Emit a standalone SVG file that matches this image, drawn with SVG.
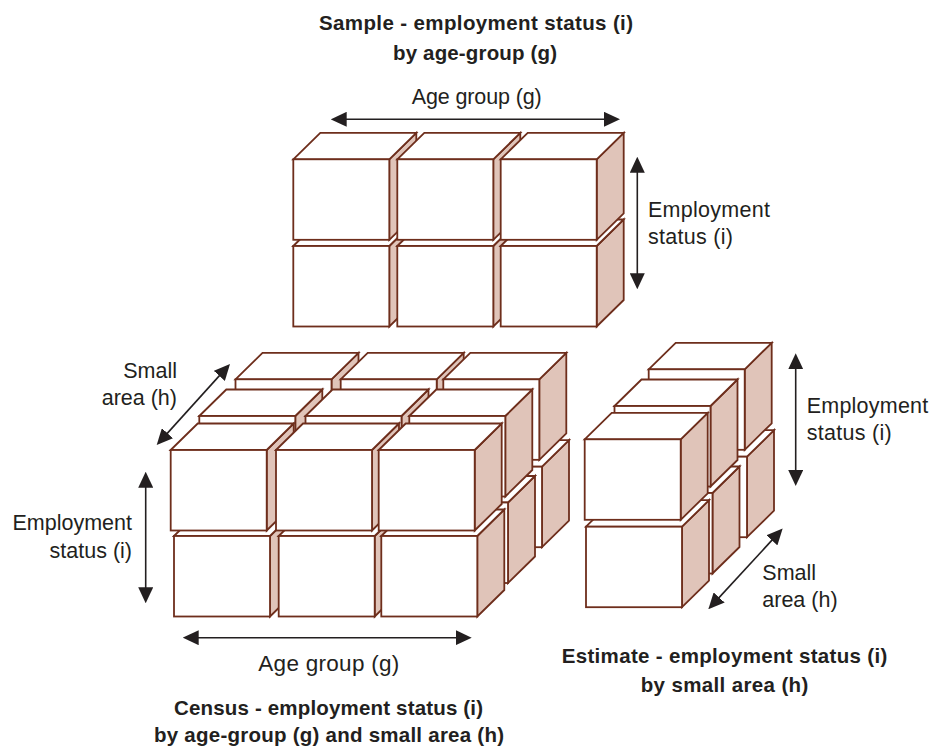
<svg xmlns="http://www.w3.org/2000/svg" xmlns:xlink="http://www.w3.org/1999/xlink" width="932" height="748" viewBox="0 0 932 748">
<style>
.f{fill:#ffffff;stroke:#6e2e1c;stroke-width:1.8}
.t{fill:#ffffff;stroke:#6e2e1c;stroke-width:1.8;stroke-linejoin:miter}
.s{fill:#e0c4b9;stroke:#6e2e1c;stroke-width:1.8;stroke-linejoin:miter}
.lbl{font-family:"Liberation Sans",Arial,Helvetica,sans-serif;font-size:21.5px;fill:#231f20}
.ttl{font-family:"Liberation Sans",Arial,Helvetica,sans-serif;font-size:20.5px;font-weight:bold;fill:#231f20;text-anchor:middle}
.arr{fill:none;stroke:#231f20;stroke-width:1.6;marker-start:url(#ah);marker-end:url(#ah)}
</style>
<defs>
<marker id="ah" viewBox="0 0 16 15" refX="6" refY="7.5" markerWidth="16" markerHeight="15" markerUnits="userSpaceOnUse" orient="auto-start-reverse">
<path d="M0,0L16,7.5L0,15z" fill="#231f20"/>
</marker>
<g id="cube">
<polygon class="s" points="96,0 123,-26.5 123,54 96,80.5"/>
<polygon class="t" points="0,0 27,-26.5 123,-26.5 96,0"/>
<rect class="f" x="0" y="0" width="96" height="80.5"/>
</g>
</defs>
<rect x="0" y="0" width="932" height="748" fill="#ffffff"/>

<!-- Sample block -->
<g id="sample">
<g id="sample-b1"><use xlink:href="#cube" x="293.3" y="246"/></g>
<g id="sample-b2"><use xlink:href="#cube" x="397.3" y="246"/></g>
<g id="sample-b3"><use xlink:href="#cube" x="500.7" y="246"/></g>
<g id="sample-t1"><use xlink:href="#cube" x="293.3" y="159.3"/></g>
<g id="sample-t2"><use xlink:href="#cube" x="397.3" y="159.3"/></g>
<g id="sample-t3"><use xlink:href="#cube" x="500.7" y="159.3"/></g>
</g>

<!-- Census block -->
<g id="census">
<g id="census-back-b1"><use xlink:href="#cube" x="238" y="466.7"/></g>
<g id="census-back-b2"><use xlink:href="#cube" x="343.4" y="466.7"/></g>
<g id="census-back-b3"><use xlink:href="#cube" x="446" y="466.7"/></g>
<g id="census-back-t1"><use xlink:href="#cube" x="235.5" y="379.3"/></g>
<g id="census-back-t2"><use xlink:href="#cube" x="340.7" y="379.3"/></g>
<g id="census-back-t3"><use xlink:href="#cube" x="443.3" y="379.3"/></g>
<g id="census-mid-b1"><use xlink:href="#cube" x="202" y="502.5"/></g>
<g id="census-mid-b2"><use xlink:href="#cube" x="308" y="502.5"/></g>
<g id="census-mid-b3"><use xlink:href="#cube" x="412" y="502.5"/></g>
<g id="census-mid-t1"><use xlink:href="#cube" x="199.3" y="416"/></g>
<g id="census-mid-t2"><use xlink:href="#cube" x="305.5" y="416"/></g>
<g id="census-mid-t3"><use xlink:href="#cube" x="409.3" y="416"/></g>
<g id="census-front-b1"><use xlink:href="#cube" x="174" y="536"/></g>
<g id="census-front-b2"><use xlink:href="#cube" x="278.7" y="536"/></g>
<g id="census-front-b3"><use xlink:href="#cube" x="381.3" y="536"/></g>
<g id="census-front-t1"><use xlink:href="#cube" x="170.7" y="450"/></g>
<g id="census-front-t2"><use xlink:href="#cube" x="276" y="450"/></g>
<g id="census-front-t3"><use xlink:href="#cube" x="378.7" y="450"/></g>
</g>

<!-- Estimate block -->
<g id="estimate">
<g id="estimate-back-b"><use xlink:href="#cube" x="651" y="456.7"/></g>
<g id="estimate-back-t"><use xlink:href="#cube" x="648.7" y="369.3"/></g>
<g id="estimate-mid-b"><use xlink:href="#cube" x="616.5" y="493"/></g>
<g id="estimate-mid-t"><use xlink:href="#cube" x="614.5" y="406"/></g>
<g id="estimate-front-b"><use xlink:href="#cube" x="586" y="526.7"/></g>
<g id="estimate-front-t"><use xlink:href="#cube" x="584.7" y="439.3"/></g>
</g>

<!-- Connectors (dimension arrows) -->
<g id="connectors">
<path class="arr" d="M340.7,119.3H610"/>
<path class="arr" d="M637.3,166.7V279.3"/>
<path class="arr" d="M163.4,437.6L223.3,371.4"/>
<path class="arr" d="M145.7,481.7V593.3"/>
<path class="arr" d="M192.7,637.7H461.7"/>
<path class="arr" d="M795.7,363.3V476"/>
<path class="arr" d="M715.1,601.9L775.9,535.9"/>
</g>

<!-- Labels -->
<g id="title-sample">
<text class="ttl" x="476" y="30" textLength="314" lengthAdjust="spacing">Sample - employment status (i)</text>
<text class="ttl" x="475" y="59.5" textLength="164" lengthAdjust="spacing">by age-group (g)</text>
</g>
<g id="label-sample-age"><text class="lbl" x="411.7" y="104" textLength="130" lengthAdjust="spacing">Age group (g)</text></g>
<g id="label-sample-emp">
<text class="lbl" x="648" y="217.3" textLength="122" lengthAdjust="spacing">Employment</text>
<text class="lbl" x="648" y="244" textLength="85" lengthAdjust="spacing">status (i)</text>
</g>
<g id="label-census-area">
<text class="lbl" x="177" y="378.3" text-anchor="end">Small</text>
<text class="lbl" x="177" y="405" text-anchor="end">area (h)</text>
</g>
<g id="label-census-emp">
<text class="lbl" x="132" y="530" text-anchor="end">Employment</text>
<text class="lbl" x="132" y="558" text-anchor="end">status (i)</text>
</g>
<g id="label-census-age"><text class="lbl" x="258.3" y="671" style="font-size:22.5px" textLength="141" lengthAdjust="spacing">Age group (g)</text></g>
<g id="title-census">
<text class="ttl" x="328.5" y="715" textLength="309" lengthAdjust="spacing">Census - employment status (i)</text>
<text class="ttl" x="329" y="742" textLength="350" lengthAdjust="spacing">by age-group (g) and small area (h)</text>
</g>
<g id="label-estimate-emp">
<text class="lbl" x="806.7" y="413.3" textLength="121.6" lengthAdjust="spacing">Employment</text>
<text class="lbl" x="806.7" y="440" textLength="85" lengthAdjust="spacing">status (i)</text>
</g>
<g id="label-estimate-area">
<text class="lbl" x="762.3" y="580">Small</text>
<text class="lbl" x="762.3" y="607.3">area (h)</text>
</g>
<g id="title-estimate">
<text class="ttl" x="724.5" y="663.3" textLength="325.6" lengthAdjust="spacing">Estimate - employment status (i)</text>
<text class="ttl" x="724.5" y="691.7" textLength="167.6" lengthAdjust="spacing">by small area (h)</text>
</g>
</svg>
